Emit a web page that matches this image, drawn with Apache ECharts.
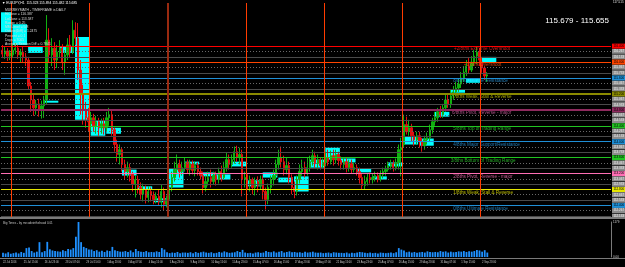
<!DOCTYPE html>
<html><head><meta charset="utf-8">
<script src="https://cdn.jsdelivr.net/npm/echarts@6/dist/echarts.min.js"></script>
<style>html,body{margin:0;padding:0;background:#000;}#c{width:625px;height:267px;}</style>
</head><body><div id="c"></div>
<script>
// ---- data (EURJPY, 4-hour bars from 22 Jul 2016) ----
const opens = [116.30,116.20,116.28,116.15,116.18,116.30,116.35,116.18,116.25,116.13,
116.05,115.40,115.05,114.85,114.95,114.80,114.90,115.05,116.55,116.18,
116.35,116.05,116.25,116.35,116.00,116.18,116.43,116.25,116.80,116.60,
115.80,115.18,114.80,114.60,114.45,114.60,114.40,114.50,114.35,114.45,
114.35,114.60,114.68,114.30,113.93,113.68,113.80,113.43,113.25,113.35,
113.18,112.93,113.05,112.85,112.68,112.80,112.60,112.75,112.65,112.55,
112.63,112.50,112.75,112.43,112.55,112.85,113.10,113.30,113.43,113.25,
113.35,113.48,113.30,113.43,113.28,113.40,113.25,113.15,112.85,113.00,
113.10,113.00,113.15,113.05,113.25,113.10,113.35,113.55,113.43,113.55,
113.75,113.60,113.68,113.05,113.10,112.95,113.05,112.85,113.00,112.90,
113.05,112.75,112.55,112.85,113.05,113.15,113.43,113.60,113.50,113.30,
113.40,113.10,112.85,112.75,113.05,113.25,113.35,113.20,113.35,113.50,
113.65,113.45,113.55,113.40,113.48,113.60,113.50,113.65,113.55,113.68,
113.53,113.43,113.50,113.35,113.45,113.30,113.35,113.25,113.10,112.90,
113.00,113.10,113.05,113.10,113.15,113.05,113.18,113.25,113.30,113.40,
113.45,113.35,113.48,113.80,113.93,114.43,114.25,114.35,114.15,114.05,
114.15,114.00,113.90,114.05,114.10,114.30,114.50,114.60,114.75,114.68,
114.85,115.05,114.95,115.15,115.25,115.35,115.45,115.60,115.75,115.90,
115.80,116.00,116.15,116.25,116.00,115.85,115.65];
const closes = [116.20,116.28,116.15,116.23,116.30,116.35,116.18,116.25,116.13,116.05,
115.40,115.05,114.85,114.95,114.80,114.90,115.05,116.55,116.18,116.35,
116.05,116.25,116.35,116.00,116.18,116.43,116.25,116.80,116.60,115.80,
115.18,114.80,114.60,114.50,114.60,114.40,114.50,114.35,114.45,114.35,
114.60,114.68,114.30,113.93,113.68,113.80,113.43,113.25,113.35,113.18,
112.93,113.05,112.85,112.68,112.80,112.60,112.75,112.65,112.55,112.63,
112.50,112.75,112.43,112.55,112.85,113.10,113.30,113.43,113.25,113.35,
113.48,113.30,113.43,113.28,113.40,113.25,113.15,112.85,113.00,113.10,
113.00,113.15,113.05,113.25,113.10,113.35,113.55,113.43,113.55,113.75,
113.60,113.68,113.05,113.10,112.95,113.05,112.85,113.00,112.90,113.05,
112.75,112.55,112.85,113.05,113.15,113.43,113.60,113.50,113.30,113.40,
113.10,112.85,112.75,113.05,113.25,113.35,113.20,113.35,113.50,113.65,
113.45,113.55,113.40,113.48,113.60,113.50,113.65,113.55,113.68,113.53,
113.43,113.50,113.35,113.45,113.30,113.35,113.25,113.10,112.90,113.00,
113.10,113.05,113.10,113.15,113.05,113.18,113.25,113.30,113.40,113.45,
113.35,113.48,113.80,113.85,114.43,114.25,114.35,114.15,114.05,114.15,
114.00,113.90,114.05,114.10,114.30,114.50,114.60,114.75,114.68,114.85,
115.05,114.95,115.15,115.25,115.35,115.45,115.60,115.75,115.90,115.80,
116.00,116.15,116.25,116.05,115.85,115.65,115.68];
const lows = [116.10,116.08,116.03,116.05,116.10,116.20,116.08,116.00,115.98,115.90,
115.30,114.75,114.65,114.68,114.63,114.58,114.60,114.95,116.00,115.90,
115.80,115.85,116.10,115.80,115.68,116.05,116.10,116.20,116.43,115.55,
114.68,114.43,114.35,114.25,114.30,114.25,114.20,114.15,114.20,114.18,
114.25,114.40,114.15,113.75,113.50,113.43,113.25,113.05,113.10,113.00,
112.75,112.60,112.70,112.55,112.50,112.45,112.48,112.50,112.43,112.45,
112.40,112.35,112.28,112.35,112.45,112.75,113.00,113.18,113.10,113.15,
113.25,113.20,113.15,113.18,113.13,113.15,113.05,112.70,112.75,112.90,
112.85,112.93,112.90,112.95,113.00,113.05,113.25,113.30,113.35,113.45,
113.50,113.43,112.63,112.85,112.80,112.75,112.68,112.65,112.73,112.80,
112.55,112.30,112.43,112.70,112.90,113.05,113.30,113.35,113.15,113.18,
112.95,112.68,112.58,112.65,112.95,113.15,113.10,113.15,113.25,113.40,
113.35,113.30,113.30,113.33,113.38,113.40,113.43,113.40,113.45,113.40,
113.30,113.30,113.23,113.25,113.20,113.23,113.15,112.95,112.80,112.80,
112.90,112.95,112.95,113.00,112.98,113.00,113.08,113.15,113.25,113.30,
113.25,113.28,113.30,113.13,113.85,114.18,114.15,114.00,113.90,113.93,
113.85,113.75,113.80,113.93,114.00,114.20,114.40,114.50,114.60,114.60,
114.75,114.85,114.85,115.05,115.15,115.25,115.35,115.50,115.65,115.70,
115.75,115.90,115.95,115.90,115.73,115.55,115.50];
const highs = [116.43,116.38,116.35,116.30,116.45,116.48,116.43,116.33,116.38,116.23,
116.13,115.50,115.18,115.05,115.08,115.03,115.15,117.18,116.85,116.60,
116.50,116.43,116.55,116.45,116.30,116.60,116.68,117.05,117.00,116.98,
116.05,115.43,115.00,114.85,114.75,114.70,114.65,114.60,114.58,114.60,
114.75,114.85,114.80,114.35,114.05,113.93,113.85,113.55,113.50,113.45,
113.25,113.15,113.15,112.98,112.95,112.90,112.88,112.85,112.75,112.73,
112.80,112.93,112.85,112.65,112.95,113.25,113.50,113.68,113.55,113.50,
113.60,113.55,113.55,113.53,113.50,113.48,113.35,113.25,113.15,113.25,
113.30,113.25,113.25,113.35,113.40,113.50,113.73,113.68,113.68,113.88,
113.90,113.85,113.80,113.25,113.18,113.15,113.10,113.10,113.13,113.15,
113.15,112.85,112.95,113.15,113.30,113.55,113.80,113.88,113.65,113.60,
113.50,113.18,113.00,113.15,113.43,113.55,113.50,113.60,113.65,113.80,
113.75,113.68,113.60,113.58,113.75,113.80,113.78,113.80,113.80,113.75,
113.63,113.60,113.58,113.55,113.55,113.48,113.43,113.35,113.20,113.15,
113.20,113.23,113.20,113.25,113.23,113.28,113.35,113.40,113.50,113.55,
113.53,113.58,113.93,114.10,114.68,114.63,114.55,114.45,114.25,114.25,
114.25,114.10,114.15,114.23,114.43,114.60,114.75,114.85,114.90,114.95,
115.18,115.20,115.30,115.40,115.50,115.60,115.75,115.90,116.05,116.10,
116.15,116.30,116.38,116.35,116.13,115.90,115.75];
const volumes = [140,120,160,110,130,150,120,170,140,300,
320,200,150,180,500,160,200,510,260,220,
200,190,180,230,200,270,250,300,680,1179,
500,340,300,250,250,200,230,180,210,170,
220,200,340,230,200,180,180,200,170,220,
160,270,200,180,170,200,160,170,160,190,
170,300,250,160,130,150,140,170,130,150,
150,140,160,130,170,140,160,180,150,140,
160,130,140,170,150,190,160,140,150,160,
200,170,240,150,130,140,120,150,160,140,
150,200,170,160,190,150,180,200,150,170,
190,160,170,150,160,140,180,150,160,180,
150,140,150,130,140,150,130,160,150,140,
140,130,150,120,140,130,150,170,160,140,
130,150,130,140,120,150,140,130,140,150,
130,160,300,250,220,160,180,150,170,140,
160,170,150,190,170,160,170,160,200,180,
190,150,180,160,170,190,180,200,170,190,
180,200,240,220,180,230,150];
const timeLabels = ["22 Jul 2016","25 Jul 15:00","26 Jul 23:00","28 Jul 07:00","29 Jul 15:00","1 Aug 23:00",
"3 Aug 07:00","4 Aug 15:00","5 Aug 23:00","9 Aug 07:00","10 Aug 15:00","11 Aug 23:00","15 Aug 07:00",
"16 Aug 15:00","17 Aug 23:00","19 Aug 07:00","22 Aug 15:00","23 Aug 23:00","25 Aug 07:00","26 Aug 15:00",
"29 Aug 23:00","31 Aug 07:00","1 Sep 15:00","2 Sep 23:00"];
const murreyValues = [112.4,112.8,113.2,113.6,114.0,114.4,114.8,115.2,115.6,116.0,116.4];
const murreyNames = ["0/8ths Ultimate Resistance","1/8ths Weak, Stall & Reverse","2/8ths Pivot, Reverse - major",
"3/8ths Bottom of Trading Range","4/8ths Major Support/Resistance","5/8ths Top of Trading Range",
"6/8ths Pivot, Reverse - major","7/8ths Weak, Stall & Reverse","8/8ths Ultimate Resistance",
"+1/8ths Overshoot","+2/8ths Extreme Overshoot"];
const murreyColors = ["#1f8fd6","#e6e600","#ff6eb4","#22c522","#1f8fd6","#22c522","#8e2a5e","#8a8a00","#1f8fd6","#ff4500","#ff0000"];
const murreyTextColors = ["#2a9ae0","#e0e000","#f070b0","#30d030","#2a9ae0","#30d030","#d060a0","#c8c800","#2a9ae0","#ff5010","#ff2020"];
const murreyWidths = [1,1,1,1,1,1,2,2,1,1,1];
const murreyLabelX = [173.5,173.5,173.5,172.5,173.5,173.5,173,173,173.5,177.5,173.8];
const weekStarts = [4,34,64,94,124,154,184];
const boxDays = [-1,0,1,2,3,4,5,6,7,8,9,10,11,12,13,14,15,16,17,18,19,20,21,22,23,24,25,26,27,28,29,30];
const boxTops = [117.25,116.95,116.38,115.03,116.38,116.63,114.53,114.35,113.30,112.88,112.58,113.33,113.50,113.23,113.18,113.50,113.03,113.23,113.10,113.13,113.55,113.85,113.58,113.33,113.13,113.48,114.13,114.08,114.75,115.30,115.60,116.13];
const boxBottoms = [116.75,116.43,116.23,114.98,116.23,114.55,114.15,114.20,113.15,112.80,112.48,112.85,113.43,113.13,113.05,113.38,112.88,113.10,112.98,112.75,113.35,113.55,113.48,113.23,113.05,113.38,113.93,113.90,114.63,115.23,115.48,116.00];
const scaleLabels = [117.245,116.975,116.705];
const infoLines = ["MURREYMATH - TIMEFRAME is DAILY","HiClose = 116.387","LoClose = 113.587","Range = 0.25",
"MM Level = 5/8","Octave(Diff) = 1.2475","Percent = 0.1","Days = 7005","Average Session Diff = 0.7841"];

// ---- build ----
const N = 234;
const cats = Array.from({length:N},(_, i)=>i);
const candleData = opens.map((o,i)=>[o,closes[i],lows[i],highs[i]]);
const FONT = 'Liberation Sans, Arial, sans-serif';

const hLines = [];
for (let k=-1;k<10;k++){
  const upper = 112.4 + 0.4*(k+1);
  const dv = +(upper - 0.4/3).toFixed(3), sv = +(upper - 0.8/3).toFixed(3);
  hLines.push({yAxis:dv, lineStyle:{color:'#686868',width:1,type:[1,2]},
    label:{formatter:dv.toFixed(3), backgroundColor:'#8c8c8c', color:'#f0f0f0'}});
  hLines.push({yAxis:sv, lineStyle:{color:'#4a4a4a',width:1,type:'solid'},
    label:{formatter:sv.toFixed(3), backgroundColor:'#8c8c8c', color:'#f0f0f0'}});
}
murreyValues.forEach((v,k)=>{
  hLines.push({yAxis:v, lineStyle:{color:murreyColors[k],width:murreyWidths[k],type:'solid'},
    label:{formatter:v.toFixed(3), backgroundColor:murreyColors[k], color:'#000'}});
});
scaleLabels.forEach(v=>{
  hLines.push({yAxis:v, lineStyle:{opacity:0}, label:{formatter:v.toFixed(3), color:'#e0e0e0', backgroundColor:'transparent'}});
});

const vLines = weekStarts.map(w=>({xAxis:w, lineStyle:{color: w===64?'#9a2a10':'#ff3c00', width: w===64?2:1, type:'solid'}}));

const boxes = boxDays.map((d,i)=>[
  {xAxis: Math.max(0, 4+6*d+0.4), yAxis: boxTops[i]},
  {xAxis: 4+6*d+6, yAxis: boxBottoms[i]}
]);

const labelData = murreyValues.map((v,k)=>({value:[murreyLabelX[k], v], name: murreyNames[k], label:{color: murreyTextColors[k]}}));

const graphics = [
  {type:'rect', shape:{x:0,y:217,width:625,height:2}, style:{fill:'#7a7a7a'}, z:100},
  {type:'rect', shape:{x:0,y:258,width:625,height:1}, style:{fill:'#7a7a7a'}, z:100},
  {type:'text', x:2, y:3.5, style:{text:'\u25BC EURJPY,H1  115.323 115.894 115.482 115.685', fill:'#ffffff', font:'3.4px '+FONT, verticalAlign:'middle'}, z:100},
  {type:'text', x:609, y:21, style:{text:'115.679 - 115.655', fill:'#ffffff', font:'8px '+FONT, align:'right', verticalAlign:'middle'}, z:100},
  {type:'text', x:3, y:223.5, style:{text:'Big Times - by mrcodeinthehood 0.01', fill:'#c0c0c0', font:'3px '+FONT, verticalAlign:'middle'}, z:100},
  {type:'text', x:613, y:2, style:{text:'117.515', fill:'#e0e0e0', font:'3px '+FONT, verticalAlign:'middle'}, z:100}
];
infoLines.forEach((t,i)=>{
  graphics.push({type:'text', x:5, y:10+i*4.3, style:{text:t, fill:'#d8d8d8', font:'3.4px '+FONT, verticalAlign:'middle'}, z:100});
});

const chart = echarts.init(document.getElementById('c'), null, {renderer:'canvas'});
chart.setOption({
  animation:false,
  backgroundColor:'#000000',
  textStyle:{fontFamily:FONT},
  grid:[{left:1,right:14,top:3,height:214},{left:1,right:14,top:222,height:35}],
  xAxis:[
    {type:'category', gridIndex:0, data:cats, show:false, boundaryGap:true},
    {type:'value', gridIndex:0, min:0, max:N, show:false},
    {type:'category', gridIndex:1, data:cats, boundaryGap:true,
      axisLine:{show:false}, axisTick:{show:false}, splitLine:{show:false},
      axisLabel:{show:true, hideOverlap:false, align:'left', margin:3.5, fontSize:2.6, color:'#c8c8c8',
        interval:(idx)=> idx%8===0 && idx/8 < timeLabels.length,
        formatter:(v, idx)=> timeLabels[idx/8] || ''}}
  ],
  yAxis:[
    {type:'value', gridIndex:0, min:112.11, max:117.483, show:false},
    {type:'value', gridIndex:1, min:0, max:1179, interval:1179, position:'right',
      axisLine:{show:true, lineStyle:{color:'#7a7a7a'}}, axisTick:{show:false}, splitLine:{show:false},
      axisLabel:{fontSize:3, color:'#d0d0d0', margin:2, formatter:(v)=> v===0 ? '0.00' : String(v)}}
  ],
  graphic: graphics,
  series:[
    {type:'scatter', name:'boxes', xAxisIndex:1, yAxisIndex:0, data:[[0,112.11]], symbolSize:0, silent:true, z:1,
      markArea:{silent:true, itemStyle:{color:'#00ffff', opacity:1}, data:boxes}},
    {type:'scatter', name:'levels', xAxisIndex:1, yAxisIndex:0, data:[[0,112.11]], symbolSize:0, silent:true, z:2,
      markLine:{silent:true, symbol:['none','none'], animation:false,
        label:{show:true, position:'end', distance:1, fontSize:3, padding:[1,1.5], fontFamily:FONT},
        data:hLines}},
    {type:'scatter', name:'weeks', xAxisIndex:1, yAxisIndex:0, data:[[0,112.11]], symbolSize:0, silent:true, z:2,
      markLine:{silent:true, symbol:['none','none'], label:{show:false}, data:vLines}},
    {type:'candlestick', xAxisIndex:0, yAxisIndex:0, data:candleData, barWidth:1.8, z:3,
      itemStyle:{color:'#10b010', color0:'#e01010', borderColor:'#10b010', borderColor0:'#e01010', borderWidth:1}},
    {type:'scatter', name:'labels', xAxisIndex:1, yAxisIndex:0, data:labelData, symbolSize:0, silent:true, z:4,
      label:{show:true, position:'right', distance:0, offset:[0,3], fontSize:4.6, fontFamily:FONT, formatter:'{b}'}},
    {type:'bar', xAxisIndex:2, yAxisIndex:1, data:volumes, barWidth:1.8, itemStyle:{color:'#1e90ff'}, z:2}
  ]
});
</script>
</body></html>
